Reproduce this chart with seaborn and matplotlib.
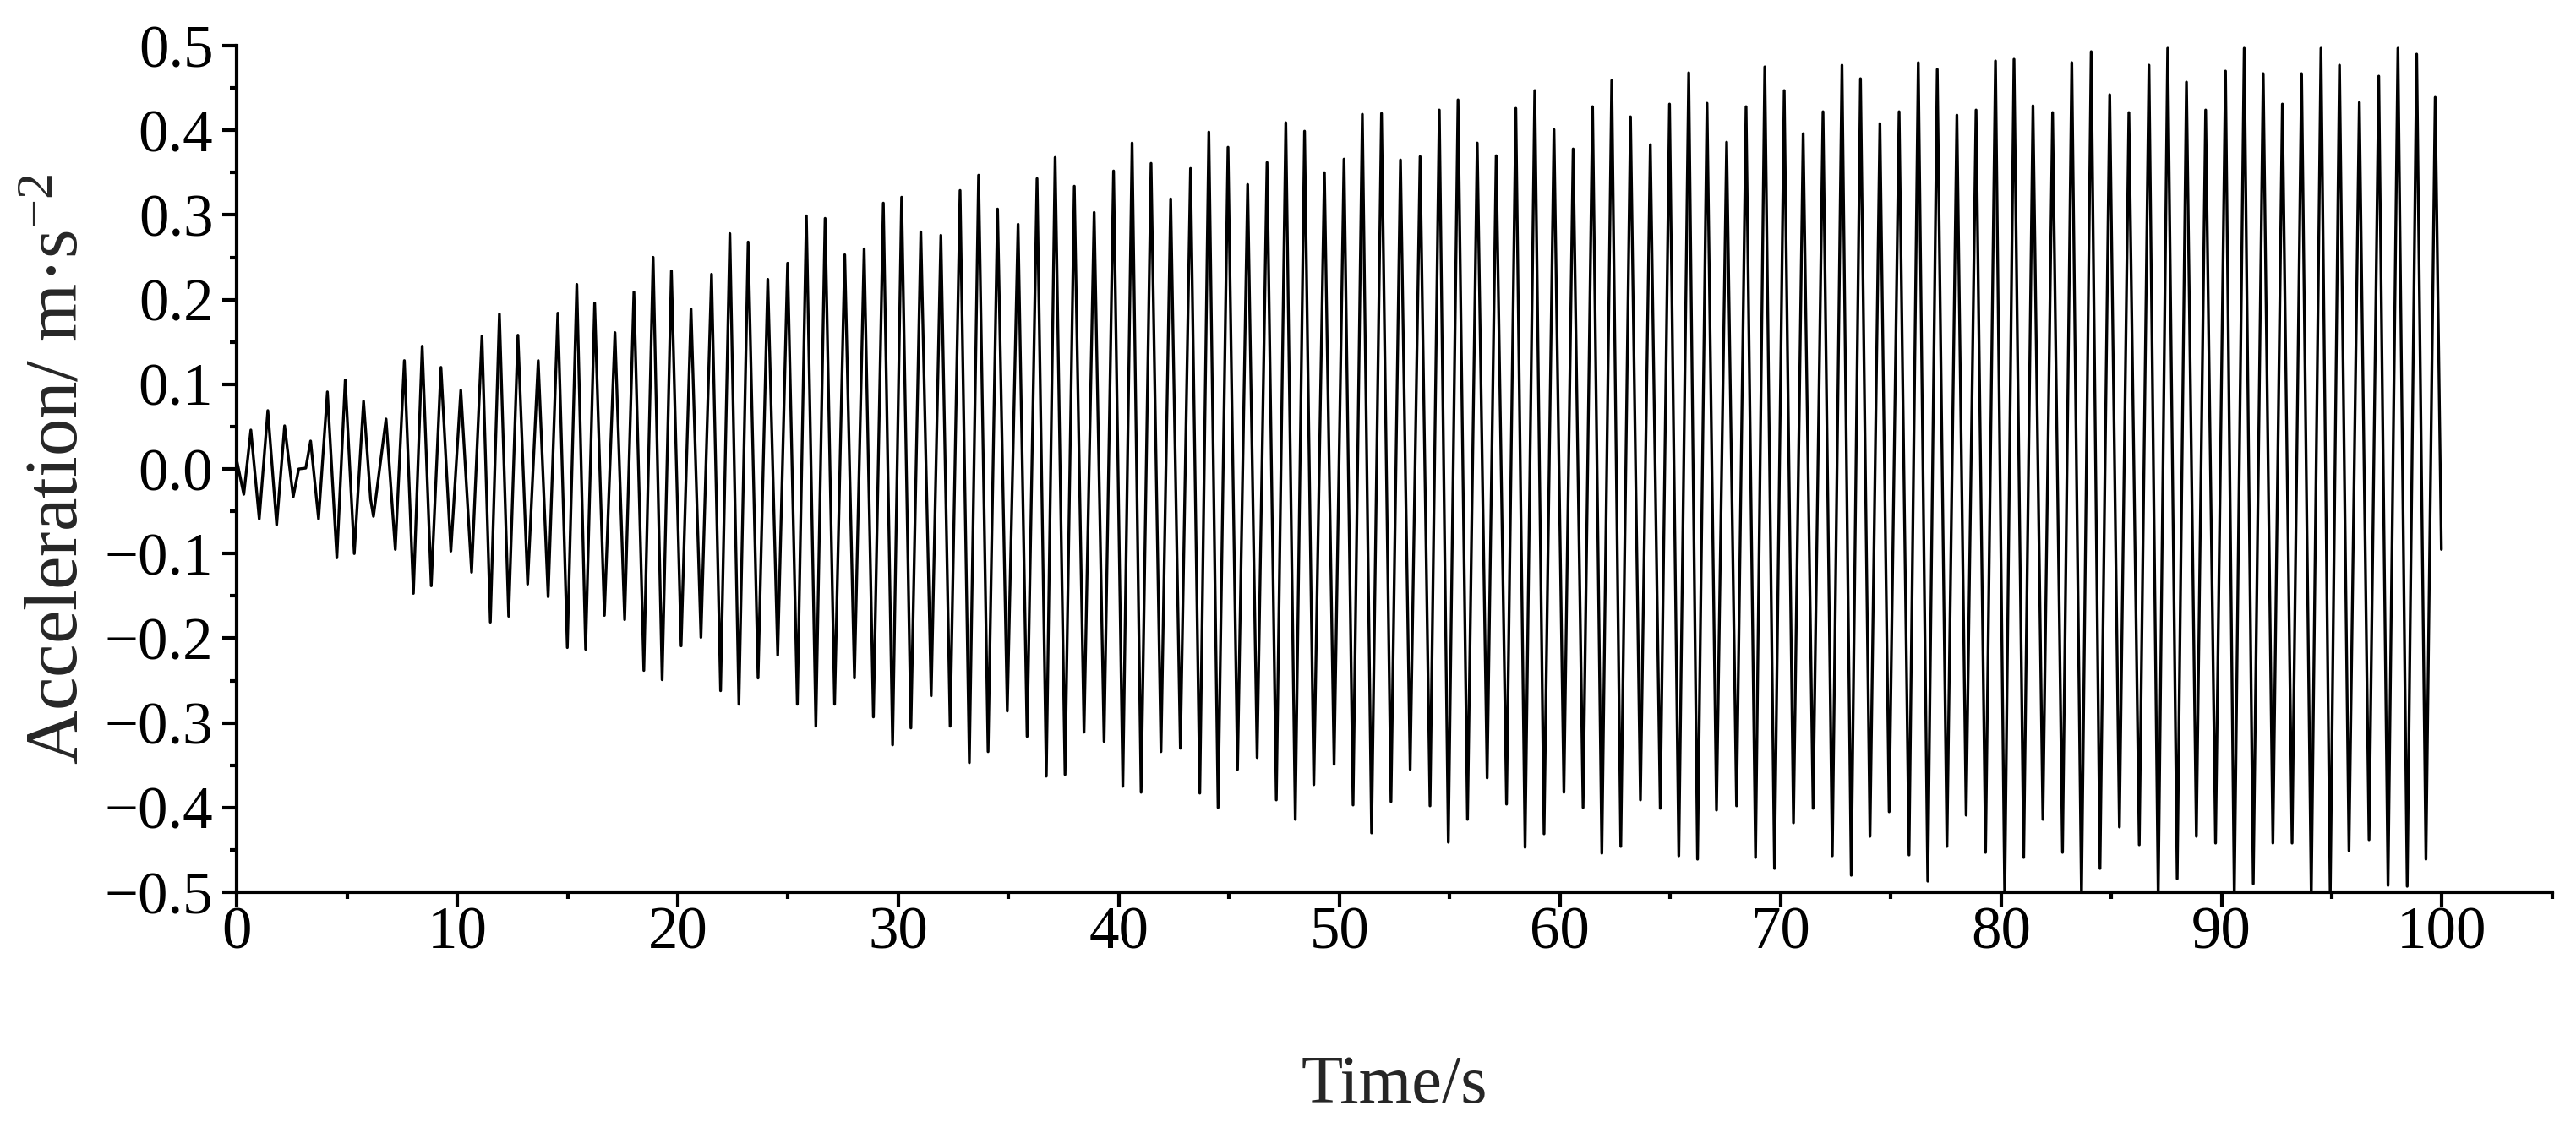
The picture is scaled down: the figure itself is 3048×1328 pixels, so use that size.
import numpy as np
import pandas as pd
import matplotlib
matplotlib.use("Agg")
import matplotlib.pyplot as plt
from matplotlib.ticker import MultipleLocator, FuncFormatter
import seaborn as sns

# ---- data: successive extremes of the acceleration record ----
t_00_20 = [0.00, 0.32, 0.64, 1.02, 1.41, 1.81, 2.17, 2.56, 2.81, 3.13, 3.35, 3.71,
           4.11, 4.54, 4.92, 5.33, 5.75, 6.07, 6.20, 6.77, 7.19, 7.60, 8.01, 8.41,
           8.82, 9.26, 9.71, 10.16, 10.65, 11.12, 11.50, 11.91, 12.33, 12.75, 13.19,
           13.67, 14.12, 14.56, 14.99, 15.42, 15.82, 16.23, 16.67, 17.15, 17.59,
           18.01, 18.46, 18.88, 19.29, 19.71]
a_00_20 = [0.010, -0.030, 0.046, -0.059, 0.069, -0.066, 0.051, -0.033, 0.000, 0.001,
           0.033, -0.059, 0.091, -0.105, 0.105, -0.100, 0.080, -0.036, -0.056, 0.059,
           -0.095, 0.128, -0.147, 0.145, -0.138, 0.120, -0.097, 0.093, -0.122, 0.157,
           -0.181, 0.183, -0.174, 0.158, -0.136, 0.128, -0.151, 0.184, -0.211, 0.218,
           -0.213, 0.196, -0.173, 0.161, -0.178, 0.209, -0.238, 0.250, -0.249, 0.234]

t_20_40 = [20.15, 20.60, 21.05, 21.53, 21.94, 22.36, 22.77, 23.19, 23.64, 24.08,
           24.53, 24.98, 25.42, 25.83, 26.26, 26.68, 27.11, 27.57, 28.01, 28.45,
           28.87, 29.32, 29.74, 30.15, 30.57, 31.02, 31.49, 31.93, 32.35, 32.80,
           33.22, 33.64, 34.07, 34.50, 34.94, 35.43, 35.84, 36.29, 36.71, 37.11,
           37.56, 37.98, 38.42, 38.88, 39.33, 39.76]
a_20_40 = [-0.209, 0.189, -0.199, 0.230, -0.262, 0.278, -0.278, 0.268, -0.247, 0.224,
           -0.220, 0.243, -0.278, 0.299, -0.304, 0.296, -0.278, 0.253, -0.247, 0.260,
           -0.293, 0.314, -0.326, 0.321, -0.306, 0.280, -0.268, 0.276, -0.304, 0.329,
           -0.347, 0.347, -0.334, 0.307, -0.286, 0.289, -0.316, 0.343, -0.363, 0.368,
           -0.361, 0.334, -0.311, 0.303, -0.322, 0.352]

t_40_60 = [40.18, 40.60, 41.01, 41.46, 41.91, 42.35, 42.79, 43.25, 43.67, 44.08,
           44.50, 44.95, 45.38, 45.84, 46.27, 46.72, 47.14, 47.57, 48.00, 48.42,
           48.84, 49.32, 49.76, 50.21, 50.62, 51.04, 51.46, 51.91, 52.34, 52.77,
           53.21, 53.66, 54.11, 54.53, 54.94, 55.38, 55.81, 56.25, 56.70, 57.11,
           57.58, 58.00, 58.42, 58.86, 59.28, 59.73]
a_40_60 = [-0.375, 0.385, -0.382, 0.361, -0.334, 0.319, -0.330, 0.355, -0.383, 0.398,
           -0.400, 0.380, -0.355, 0.336, -0.341, 0.362, -0.391, 0.409, -0.414, 0.399,
           -0.373, 0.350, -0.349, 0.366, -0.397, 0.419, -0.430, 0.420, -0.393, 0.365,
           -0.355, 0.369, -0.398, 0.424, -0.441, 0.436, -0.414, 0.385, -0.365, 0.370,
           -0.396, 0.426, -0.447, 0.447, -0.431, 0.401]

t_60_80 = [60.18, 60.60, 61.05, 61.48, 61.90, 62.35, 62.76, 63.20, 63.65, 64.10,
           64.55, 64.97, 65.39, 65.84, 66.24, 66.67, 67.10, 67.56, 68.01, 68.44,
           68.87, 69.29, 69.73, 70.17, 70.59, 71.03, 71.48, 71.93, 72.35, 72.79,
           73.21, 73.63, 74.06, 74.51, 74.93, 75.38, 75.83, 76.25, 76.68, 77.11,
           77.55, 78.00, 78.42, 78.87, 79.30, 79.75]
a_60_80 = [-0.382, 0.378, -0.400, 0.428, -0.454, 0.459, -0.446, 0.416, -0.391, 0.383,
           -0.401, 0.431, -0.457, 0.468, -0.461, 0.432, -0.403, 0.386, -0.398, 0.428,
           -0.459, 0.475, -0.472, 0.447, -0.418, 0.396, -0.401, 0.422, -0.457, 0.477,
           -0.480, 0.461, -0.434, 0.408, -0.405, 0.422, -0.456, 0.480, -0.487, 0.472,
           -0.446, 0.418, -0.409, 0.424, -0.453, 0.482]

t_80_100 = [80.17, 80.59, 81.03, 81.45, 81.90, 82.34, 82.79, 83.21, 83.65, 84.09,
            84.49, 84.93, 85.37, 85.80, 86.27, 86.71, 87.13, 87.56, 87.99, 88.41,
            88.86, 89.28, 89.73, 90.18, 90.58, 91.03, 91.44, 91.89, 92.33, 92.76,
            93.20, 93.63, 94.07, 94.51, 94.93, 95.35, 95.78, 96.25, 96.69, 97.13,
            97.55, 98.00, 98.42, 98.85, 99.27, 99.69, 99.97]
a_80_100 = [-0.505, 0.484, -0.459, 0.429, -0.414, 0.421, -0.453, 0.480, -0.505, 0.493,
            -0.472, 0.442, -0.423, 0.421, -0.444, 0.477, -0.505, 0.497, -0.484, 0.457,
            -0.434, 0.424, -0.442, 0.470, -0.505, 0.497, -0.490, 0.467, -0.442, 0.431,
            -0.442, 0.467, -0.505, 0.497, -0.505, 0.477, -0.451, 0.433, -0.438, 0.464,
            -0.492, 0.497, -0.493, 0.490, -0.461, 0.439, -0.095]

x_major_ticks = [0, 10, 20, 30, 40, 50, 60, 70, 80, 90, 100]
y_major_ticks = [-0.5, -0.4, -0.3, -0.2, -0.1, 0.0, 0.1, 0.2, 0.3, 0.4, 0.5]

df = pd.DataFrame({
    "Time": t_00_20 + t_20_40 + t_40_60 + t_60_80 + t_80_100,
    "Acceleration": a_00_20 + a_20_40 + a_40_60 + a_60_80 + a_80_100,
})

# ---- style ----
sns.set_theme(style="ticks")
plt.rcParams["font.family"] = ["Liberation Serif", "DejaVu Serif"]
plt.rcParams["mathtext.fontset"] = "custom"
plt.rcParams["mathtext.rm"] = "Liberation Serif"
plt.rcParams["mathtext.it"] = "Liberation Serif:italic"
plt.rcParams["axes.unicode_minus"] = True

fig = plt.figure(figsize=(30.48, 13.28), dpi=100)
ax = fig.add_axes([0.0919, 0.2048, 0.8989, 0.7545])

sns.lineplot(data=df, x="Time", y="Acceleration", ax=ax, color="black",
             linewidth=2.4, sort=False, estimator=None)

ax.set_xlim(0, 105)
ax.set_ylim(-0.5, 0.5)
ax.set_xticks(x_major_ticks)
ax.set_yticks(y_major_ticks)
ax.xaxis.set_minor_locator(MultipleLocator(5))
ax.yaxis.set_minor_locator(MultipleLocator(0.05))
ax.yaxis.set_major_formatter(FuncFormatter(lambda v, p: f"{v:.1f}".replace("-", "\u2212")))

sns.despine(ax=ax)
for side in ("left", "bottom"):
    ax.spines[side].set_linewidth(3)
    ax.spines[side].set_color("black")

ax.tick_params(axis="both", which="major", direction="out", length=12, width=3,
               labelsize=51, colors="black")
ax.tick_params(axis="x", which="major", pad=0)
ax.tick_params(axis="y", which="major", pad=8)
ax.tick_params(axis="both", which="minor", direction="out", length=6, width=3,
               colors="black")

ax.set_xlabel("Time/s", fontsize=58, labelpad=80)
ax.set_ylabel("Acceleration/ m\u00b7s$^{-2}$", fontsize=64, labelpad=10)
ax.grid(False)

fig.savefig("out.png", dpi=100, facecolor="white")
